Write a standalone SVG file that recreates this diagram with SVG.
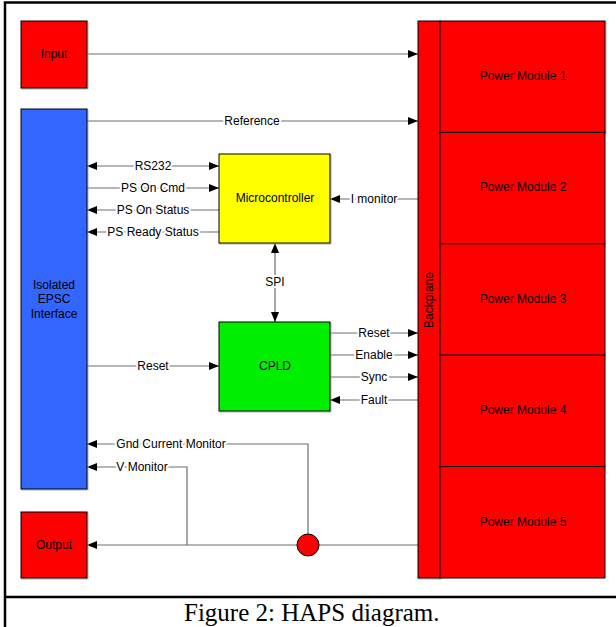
<svg xmlns="http://www.w3.org/2000/svg" width="616" height="627" viewBox="0 0 616 627">
<style>
.box{stroke:#000;stroke-width:1}
.sh{fill:none;stroke:#b0b0b0;stroke-width:1}
.lbl{font-family:"Liberation Sans",Arial,sans-serif;font-size:12px;fill:#000;text-anchor:middle}
.wl{paint-order:stroke;stroke:#fff;stroke-width:4px;stroke-linejoin:round}
.ln{fill:none;stroke:#6e6e6e;stroke-width:1.2}
.cap{font-family:"Liberation Serif","Times New Roman",serif;font-size:25px;fill:#000}
</style>
<defs>
<marker id="ah" viewBox="0 0 10 8" refX="10" refY="4" markerWidth="10" markerHeight="8" markerUnits="userSpaceOnUse" orient="auto-start-reverse">
<path d="M0,0 L10,4 L0,8 Z" fill="#000"/>
</marker>
</defs>
<rect x="0" y="0" width="616" height="627" fill="#fff"/>
<rect x="5" y="2.5" width="630" height="640" fill="none" stroke="#000" stroke-width="2.5"/>
<line x1="5" y1="597" x2="616" y2="597" stroke="#000" stroke-width="2.5"/>

<g id="connectors">
<line class="ln" x1="87" y1="54" x2="418" y2="54" marker-end="url(#ah)"/>
<line class="ln" x1="87" y1="121" x2="418" y2="121" marker-end="url(#ah)"/>
<line class="ln" x1="87" y1="166" x2="219" y2="166" marker-start="url(#ah)" marker-end="url(#ah)"/>
<line class="ln" x1="87" y1="188" x2="219" y2="188" marker-end="url(#ah)"/>
<line class="ln" x1="219" y1="210" x2="87" y2="210" marker-end="url(#ah)"/>
<line class="ln" x1="219" y1="232" x2="87" y2="232" marker-end="url(#ah)"/>
<line class="ln" x1="418" y1="199" x2="330" y2="199" marker-end="url(#ah)"/>
<line class="ln" x1="275" y1="243" x2="275" y2="322" marker-start="url(#ah)" marker-end="url(#ah)"/>
<line class="ln" x1="87" y1="366" x2="219" y2="366" marker-end="url(#ah)"/>
<line class="ln" x1="330" y1="333" x2="418" y2="333" marker-end="url(#ah)"/>
<line class="ln" x1="330" y1="355" x2="418" y2="355" marker-end="url(#ah)"/>
<line class="ln" x1="330" y1="377" x2="418" y2="377" marker-end="url(#ah)"/>
<line class="ln" x1="418" y1="400" x2="330" y2="400" marker-end="url(#ah)"/>
<polyline class="ln" points="308,534 308,444 87,444" marker-end="url(#ah)"/>
<polyline class="ln" points="187,545 187,467 87,467" marker-end="url(#ah)"/>
<line class="ln" x1="418" y1="545" x2="87" y2="545" marker-end="url(#ah)"/>
<text class="lbl wl" x="252" y="125">Reference</text>
<text class="lbl wl" x="153" y="170">RS232</text>
<text class="lbl wl" x="153" y="192">PS On Cmd</text>
<text class="lbl wl" x="153" y="214">PS On Status</text>
<text class="lbl wl" x="153" y="236">PS Ready Status</text>
<text class="lbl wl" x="374" y="203">I monitor</text>
<text class="lbl wl" x="275" y="286">SPI</text>
<text class="lbl wl" x="153" y="370">Reset</text>
<text class="lbl wl" x="374" y="337">Reset</text>
<text class="lbl wl" x="374" y="359">Enable</text>
<text class="lbl wl" x="374" y="381">Sync</text>
<text class="lbl wl" x="374" y="404">Fault</text>
<text class="lbl wl" x="171" y="448">Gnd Current Monitor</text>
<text class="lbl wl" x="142" y="471">V Monitor</text>
</g>

<g id="input">
<rect class="sh" x="22" y="22" width="66" height="67"/>
<rect class="box" x="21" y="21" width="66" height="67" fill="#ff0000"/>
<text class="lbl" x="54" y="58">Input</text>
</g>
<g id="epsc">
<rect class="sh" x="22" y="110" width="66" height="380"/>
<rect class="box" x="21" y="109" width="66" height="380" fill="#3366ff"/>
<text class="lbl" x="54" y="289">Isolated</text>
<text class="lbl" x="54" y="303">EPSC</text>
<text class="lbl" x="54" y="318">Interface</text>
</g>
<g id="output">
<rect class="sh" x="22" y="513" width="66" height="66"/>
<rect class="box" x="21" y="512" width="66" height="66" fill="#ff0000"/>
<text class="lbl" x="54" y="549">Output</text>
</g>
<g id="microcontroller">
<rect class="sh" x="220" y="155" width="111" height="89"/>
<rect class="box" x="219" y="154" width="111" height="89" fill="#ffff00"/>
<text class="lbl" x="275" y="202">Microcontroller</text>
</g>
<g id="cpld">
<rect class="sh" x="220" y="323" width="111" height="89"/>
<rect class="box" x="219" y="322" width="111" height="89" fill="#00ee00"/>
<text class="lbl" x="275" y="370">CPLD</text>
</g>
<g id="junction">
<circle cx="308" cy="545" r="11" fill="#ff0000" stroke="#000" stroke-width="1"/>
</g>
<g id="backplane">
<rect class="sh" x="419" y="22" width="22" height="557"/>
<rect class="box" x="418" y="21" width="22" height="557" fill="#ff0000"/>
<text class="lbl" transform="translate(433,300) rotate(-90)" x="0" y="0">Backplane</text>
</g>
<g id="pm1">
<rect class="sh" x="441" y="22" width="165" height="111.4"/>
<rect class="box" x="440" y="21" width="165" height="111.4" fill="#ff0000"/>
<text class="lbl" x="523" y="80">Power Module 1</text>
</g>
<g id="pm2">
<rect class="box" x="440" y="132.4" width="165" height="111.4" fill="#ff0000"/>
<text class="lbl" x="523" y="191">Power Module 2</text>
</g>
<g id="pm3">
<rect class="box" x="440" y="243.8" width="165" height="111.4" fill="#ff0000"/>
<text class="lbl" x="523" y="303">Power Module 3</text>
</g>
<g id="pm4">
<rect class="box" x="440" y="355.2" width="165" height="111.4" fill="#ff0000"/>
<text class="lbl" x="523" y="414">Power Module 4</text>
</g>
<g id="pm5">
<rect class="box" x="440" y="466.6" width="165" height="111.4" fill="#ff0000"/>
<text class="lbl" x="523" y="526">Power Module 5</text>
</g>
<text class="cap" x="184" y="621">Figure 2: HAPS diagram.</text>
</svg>
